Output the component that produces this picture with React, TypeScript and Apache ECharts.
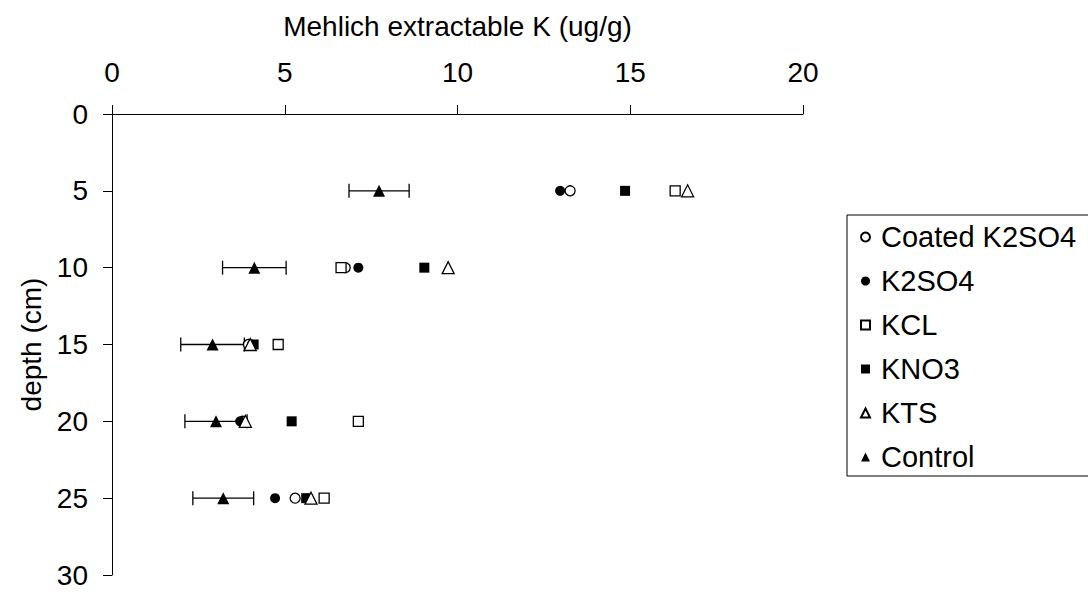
import React, { useEffect, useRef } from "react";
import * as echarts from "echarts";

const depths = [5, 10, 15, 20, 25];
const coatedK2SO4 = [13.26, 6.75, 3.95, 3.78, 5.3];
const k2so4 = [12.97, 7.13, 4.05, 3.71, 4.72];
const kcl = [16.3, 6.63, 4.81, 7.13, 6.14];
const kno3 = [14.85, 9.04, 4.1, 5.2, 5.62];
const kts = [16.66, 9.73, 4.0, 3.86, 5.76];
const control = [7.73, 4.12, 2.91, 3.01, 3.22];
const controlErr = [0.87, 0.92, 0.92, 0.9, 0.88];
const seriesNames = ["Coated K2SO4", "K2SO4", "KCL", "KNO3", "KTS", "Control"];

const FONT = "'Liberation Sans', Arial, sans-serif";

export default function App() {
  const ref = useRef<HTMLDivElement>(null);
  useEffect(() => {
    if (!ref.current) return;
    const chart = echarts.init(ref.current, undefined, { renderer: "svg" });
    const pts = (vals: number[]) => vals.map((v, i) => [v, depths[i]]);
    const open = { color: "#fff", borderColor: "#000", borderWidth: 1.3, opacity: 1 };
    const filled = { color: "#000", borderColor: "#000", borderWidth: 0, opacity: 1 };
    const errData = control.map((v, i) => [v - controlErr[i], v + controlErr[i], depths[i]]);
    chart.setOption({
      animation: false,
      backgroundColor: "#fff",
      textStyle: { fontFamily: FONT },
      grid: { left: 112, top: 114, width: 691, height: 461, containLabel: false },
      xAxis: {
        type: "value",
        position: "top",
        min: 0,
        max: 20,
        interval: 5,
        name: "Mehlich extractable K (ug/g)",
        nameLocation: "middle",
        nameGap: 74,
        nameTextStyle: { fontSize: 28, color: "#000", fontFamily: FONT },
        axisLine: { show: true, onZero: false, lineStyle: { color: "#000", width: 1 } },
        axisTick: { show: true, inside: false, length: 9, lineStyle: { color: "#000" } },
        axisLabel: { fontSize: 28, color: "#000", margin: 28, fontFamily: FONT },
        splitLine: { show: false },
      },
      yAxis: {
        type: "value",
        inverse: true,
        min: 0,
        max: 30,
        interval: 5,
        name: "depth (cm)",
        nameLocation: "middle",
        nameGap: 65,
        nameRotate: 90,
        nameTextStyle: { fontSize: 28, color: "#000", fontFamily: FONT },
        axisLine: { show: true, onZero: false, lineStyle: { color: "#000", width: 1 } },
        axisTick: { show: true, inside: false, length: 9, lineStyle: { color: "#000" } },
        axisLabel: { fontSize: 28, color: "#000", margin: 24, fontFamily: FONT },
        splitLine: { show: false },
      },
      legend: {
        orient: "vertical",
        left: 847,
        top: 215,
        data: seriesNames,
        itemWidth: 9,
        itemHeight: 9,
        itemGap: 14,
        padding: [7, 14, 4, 13],
        borderColor: "#000",
        borderWidth: 1,
        borderRadius: 0,
        backgroundColor: "#fff",
        textStyle: { fontSize: 29, lineHeight: 30, color: "#000", fontFamily: FONT, padding: [0, 0, 0, 6] },
      },
      series: [
        { name: "Coated K2SO4", type: "scatter", symbol: "circle", symbolSize: 10, itemStyle: open, data: pts(coatedK2SO4) },
        { name: "K2SO4", type: "scatter", symbol: "circle", symbolSize: 10, itemStyle: filled, data: pts(k2so4) },
        { name: "KCL", type: "scatter", symbol: "rect", symbolSize: 10, itemStyle: open, data: pts(kcl) },
        { name: "KNO3", type: "scatter", symbol: "rect", symbolSize: 10, itemStyle: filled, data: pts(kno3) },
        { name: "KTS", type: "scatter", symbol: "triangle", symbolSize: 12, itemStyle: open, data: pts(kts) },
        {
          name: "ControlErr",
          type: "custom",
          data: errData,
          encode: { x: [0, 1], y: 2 },
          renderItem: (params: any, api: any) => {
            const a = api.coord([api.value(0), api.value(2)]);
            const b = api.coord([api.value(1), api.value(2)]);
            const st = { stroke: "#000", lineWidth: 1.3 };
            return {
              type: "group",
              children: [
                { type: "line", shape: { x1: a[0], y1: a[1], x2: b[0], y2: b[1] }, style: st },
                { type: "line", shape: { x1: a[0], y1: a[1] - 7, x2: a[0], y2: a[1] + 7 }, style: st },
                { type: "line", shape: { x1: b[0], y1: b[1] - 7, x2: b[0], y2: b[1] + 7 }, style: st },
              ],
            };
          },
        },
        { name: "Control", type: "scatter", symbol: "triangle", symbolSize: 12, itemStyle: filled, data: pts(control) },
      ],
    });
    return () => chart.dispose();
  }, []);
  return (
    <div
      ref={ref}
      style={{ position: "absolute", left: 0, top: 0, width: 1088, height: 592, background: "#fff" }}
    />
  );
}
